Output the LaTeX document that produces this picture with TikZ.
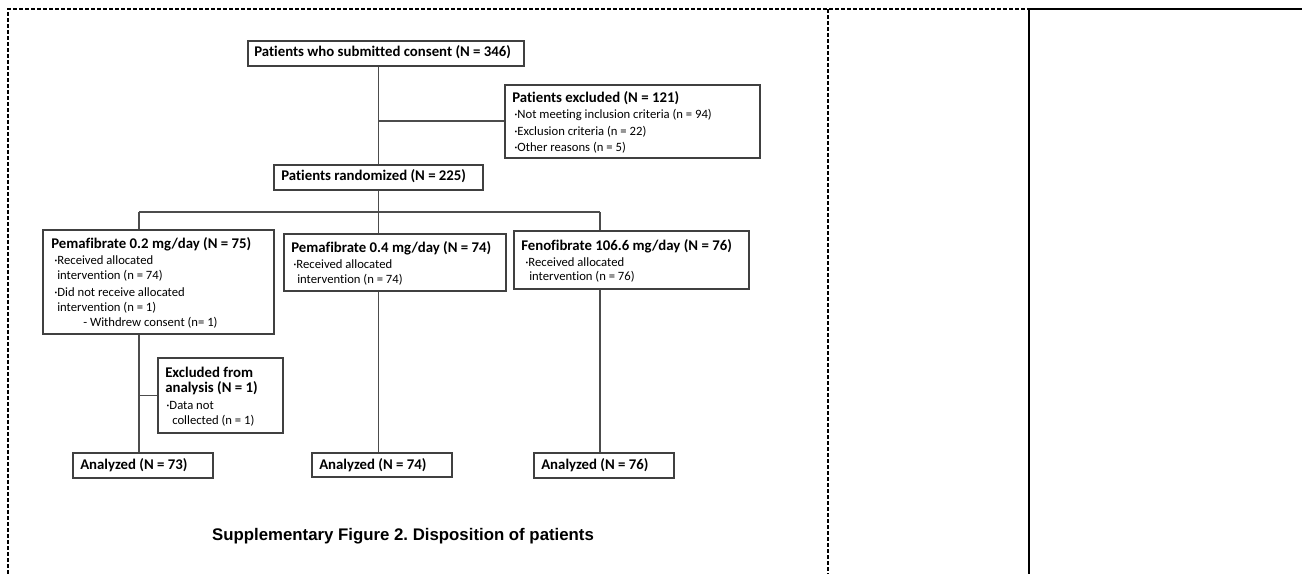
\documentclass[tikz,border=0pt]{standalone}
\usepackage{fontspec}
\setmainfont{Carlito}[Ligatures=NoCommon]
\newfontfamily\capfont{Liberation Sans}
\begin{document}
\begin{tikzpicture}[x=0.75pt,y=-0.75pt,
  box/.style={draw=black!75,line width=1.2pt,rectangle,inner sep=0pt,anchor=north west},
  ttl/.style={anchor=west,inner sep=0pt,font=\bfseries\fontsize{11.1}{13}\selectfont},
  itm/.style={anchor=west,inner sep=0pt,font=\fontsize{9.5}{11}\selectfont},
  conn/.style={draw=black!70,line width=1.2pt},
  dashframe/.style={line width=1.4pt,dash pattern=on 3pt off 1.5pt},
  solidframe/.style={line width=1.4pt}]
\useasboundingbox (0,0) rectangle (1302,574);
% frame
\draw[dashframe] (8,574) -- (8,9) -- (1029,9);
\draw[dashframe] (828,9) -- (828,574);
\draw[solidframe] (1029,574) -- (1029,9) -- (1302,9);
% boxes
\node[box,minimum width=276*0.75pt,minimum height=25*0.75pt] (consent) at (247,40) {};
\node[box,minimum width=255*0.75pt,minimum height=73*0.75pt] (excl) at (504,84) {};
\node[box,minimum width=209*0.75pt,minimum height=25*0.75pt] (rand) at (273,164) {};
\node[box,minimum width=231*0.75pt,minimum height=104*0.75pt] (p2) at (42,229) {};
\node[box,minimum width=222*0.75pt,minimum height=57*0.75pt] (p4) at (283,233) {};
\node[box,minimum width=235*0.75pt,minimum height=58*0.75pt] (feno) at (513,230) {};
\node[box,minimum width=125*0.75pt,minimum height=75*0.75pt] (exa) at (157,357) {};
\node[box,minimum width=140*0.75pt,minimum height=25*0.75pt] (a73) at (72,452) {};
\node[box,minimum width=140*0.75pt,minimum height=24*0.75pt] (a74) at (311,452) {};
\node[box,minimum width=140*0.75pt,minimum height=25*0.75pt] (a76) at (533,452) {};
% texts
\node[ttl] (t1) at (254,52.5) {Patients who submitted consent (N = 346)};
\node[ttl] (t2) at (512,98) {Patients excluded (N = 121)};
\node[itm] (t2a) at (514,115) {·Not meeting inclusion criteria (n = 94)};
\node[itm] (t2b) at (514,131.5) {·Exclusion criteria (n = 22)};
\node[itm] (t2c) at (514,148) {·Other reasons (n = 5)};
\node[ttl] (t3) at (281,176.5) {Patients randomized (N = 225)};
\node[ttl] (t4) at (51,244) {Pemafibrate 0.2 mg/day (N = 75)};
\node[itm] (t4a) at (54,260) {·Received allocated};
\node[itm] (t4b) at (57,276) {intervention (n = 74)};
\node[itm] (t4c) at (54,292) {·Did not receive allocated};
\node[itm] (t4d) at (57,308) {intervention (n = 1)};
\node[itm] (t4e) at (83,323) {- Withdrew consent (n= 1)};
\node[ttl] (t5) at (291,248) {Pemafibrate 0.4 mg/day (N = 74)};
\node[itm] (t5a) at (293,264) {·Received allocated};
\node[itm] (t5b) at (297,280) {intervention (n = 74)};
\node[ttl] (t6) at (521,246) {Fenofibrate 106.6 mg/day (N = 76)};
\node[itm] (t6a) at (525,262) {·Received allocated};
\node[itm] (t6b) at (529,277) {intervention (n = 76)};
\node[ttl] (t7) at (165,372) {Excluded from};
\node[ttl] (t7b) at (165,388.5) {analysis (N = 1)};
\node[itm] (t7c) at (166,405) {·Data not};
\node[itm] (t7d) at (172,421) {collected (n = 1)};
\node[ttl] (t8) at (80,465) {Analyzed (N = 73)};
\node[ttl] (t9) at (319,465) {Analyzed (N = 74)};
\node[ttl] (t10) at (541,465) {Analyzed (N = 76)};
\node[inner sep=0pt,font=\capfont\bfseries\fontsize{12.6}{15}\selectfont] (cap) at (403,536) {Supplementary Figure 2.\ Disposition of patients};
% connectors
\coordinate (bL) at (139,212);
\coordinate (bR) at (600,212);
\draw[conn] (rand.north |- consent.south) -- (rand.north);
\draw[conn] (rand.north |- excl.west) -- (excl.west);
\draw[conn] (rand.south) -- (rand.south |- p4.north);
\draw[conn] (bL) -- (bR);
\draw[conn] (bL) -- (bL |- p2.north);
\draw[conn] (bR) -- (bR |- feno.north);
\draw[conn] (bL |- p2.south) -- (bL |- a73.north);
\draw[conn] (bL |- exa.west) -- (exa.west);
\draw[conn] (rand.south |- p4.south) -- (rand.south |- a74.north);
\draw[conn] (bR |- feno.south) -- (bR |- a76.north);
\end{tikzpicture}
\end{document}
